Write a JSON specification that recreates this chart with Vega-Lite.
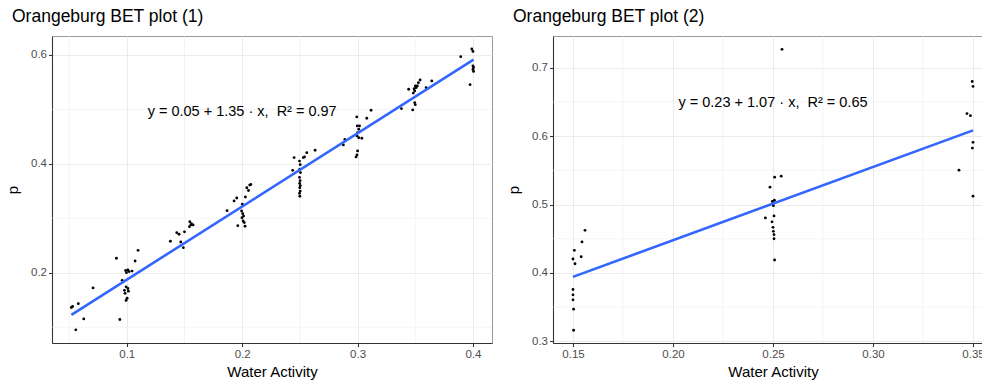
{
  "$schema": "https://vega.github.io/schema/vega-lite/v6.json",
  "padding": {"left": 5, "top": 7, "right": 0, "bottom": 2},
  "spacing": 13,
  "background": "white",
  "datasets": {
    "bet1": [
      {"x": 0.052, "p": 0.136}, {"x": 0.053, "p": 0.138}, {"x": 0.058, "p": 0.143}, {"x": 0.0627, "p": 0.115},
      {"x": 0.0558, "p": 0.095}, {"x": 0.0708, "p": 0.172},
      {"x": 0.091, "p": 0.2265}, {"x": 0.094, "p": 0.114}, {"x": 0.096, "p": 0.186},
      {"x": 0.099, "p": 0.204}, {"x": 0.101, "p": 0.205}, {"x": 0.102, "p": 0.202}, {"x": 0.0997, "p": 0.2}, {"x": 0.1046, "p": 0.203},
      {"x": 0.0994, "p": 0.174}, {"x": 0.101, "p": 0.171}, {"x": 0.098, "p": 0.1676}, {"x": 0.1014, "p": 0.166},
      {"x": 0.0985, "p": 0.162}, {"x": 0.1003, "p": 0.153}, {"x": 0.0994, "p": 0.149},
      {"x": 0.1072, "p": 0.2215}, {"x": 0.1098, "p": 0.241},
      {"x": 0.1378, "p": 0.2577}, {"x": 0.1433, "p": 0.2735}, {"x": 0.1453, "p": 0.2706}, {"x": 0.1468, "p": 0.2564},
      {"x": 0.149, "p": 0.246}, {"x": 0.15, "p": 0.275}, {"x": 0.1546, "p": 0.2937}, {"x": 0.1555, "p": 0.2877},
      {"x": 0.1575, "p": 0.2877}, {"x": 0.1543, "p": 0.2846}, {"x": 0.156, "p": 0.29},
      {"x": 0.1869, "p": 0.314}, {"x": 0.193, "p": 0.3318}, {"x": 0.1953, "p": 0.3373}, {"x": 0.1962, "p": 0.2864},
      {"x": 0.2025, "p": 0.2853}, {"x": 0.2002, "p": 0.3257}, {"x": 0.2028, "p": 0.339}, {"x": 0.204, "p": 0.356},
      {"x": 0.2055, "p": 0.351}, {"x": 0.2065, "p": 0.361}, {"x": 0.2075, "p": 0.362},
      {"x": 0.1995, "p": 0.3134}, {"x": 0.2005, "p": 0.3085}, {"x": 0.2012, "p": 0.304}, {"x": 0.1998, "p": 0.301},
      {"x": 0.2008, "p": 0.295}, {"x": 0.2018, "p": 0.292},
      {"x": 0.2438, "p": 0.388}, {"x": 0.245, "p": 0.4115}, {"x": 0.253, "p": 0.4115}, {"x": 0.254, "p": 0.4127},
      {"x": 0.256, "p": 0.4206}, {"x": 0.2632, "p": 0.425},
      {"x": 0.2497, "p": 0.405}, {"x": 0.2503, "p": 0.3985}, {"x": 0.2499, "p": 0.39}, {"x": 0.2505, "p": 0.384},
      {"x": 0.2497, "p": 0.375}, {"x": 0.2502, "p": 0.369}, {"x": 0.2498, "p": 0.364}, {"x": 0.2504, "p": 0.36},
      {"x": 0.2499, "p": 0.356}, {"x": 0.2503, "p": 0.35}, {"x": 0.2497, "p": 0.346}, {"x": 0.25, "p": 0.3405},
      {"x": 0.2877, "p": 0.4347}, {"x": 0.289, "p": 0.445}, {"x": 0.2993, "p": 0.4862}, {"x": 0.2997, "p": 0.4697},
      {"x": 0.3017, "p": 0.4697}, {"x": 0.301, "p": 0.4636}, {"x": 0.3, "p": 0.4573}, {"x": 0.2995, "p": 0.4513},
      {"x": 0.301, "p": 0.448}, {"x": 0.3037, "p": 0.447}, {"x": 0.3, "p": 0.4237}, {"x": 0.2995, "p": 0.4164},
      {"x": 0.2987, "p": 0.4127}, {"x": 0.308, "p": 0.4838}, {"x": 0.3117, "p": 0.4985},
      {"x": 0.338, "p": 0.5015}, {"x": 0.3478, "p": 0.499}, {"x": 0.3443, "p": 0.537}, {"x": 0.3483, "p": 0.53},
      {"x": 0.3495, "p": 0.534}, {"x": 0.349, "p": 0.538}, {"x": 0.3507, "p": 0.54}, {"x": 0.3501, "p": 0.543},
      {"x": 0.3518, "p": 0.543}, {"x": 0.3527, "p": 0.549}, {"x": 0.3542, "p": 0.554}, {"x": 0.3495, "p": 0.5125},
      {"x": 0.35, "p": 0.5088}, {"x": 0.3594, "p": 0.54}, {"x": 0.3643, "p": 0.5523},
      {"x": 0.3894, "p": 0.597}, {"x": 0.399, "p": 0.611}, {"x": 0.4, "p": 0.6065}, {"x": 0.4, "p": 0.58},
      {"x": 0.4005, "p": 0.577}, {"x": 0.4, "p": 0.5735}, {"x": 0.4005, "p": 0.5698}, {"x": 0.3975, "p": 0.5455}
    ],
    "bet2": [
      {"x": 0.156, "p": 0.4623}, {"x": 0.1545, "p": 0.4453}, {"x": 0.1507, "p": 0.433}, {"x": 0.15, "p": 0.4203},
      {"x": 0.151, "p": 0.4134}, {"x": 0.1541, "p": 0.4237}, {"x": 0.15, "p": 0.3757}, {"x": 0.15, "p": 0.3679},
      {"x": 0.15, "p": 0.3606}, {"x": 0.1503, "p": 0.347}, {"x": 0.1503, "p": 0.3161},
      {"x": 0.2545, "p": 0.727}, {"x": 0.2508, "p": 0.54}, {"x": 0.2541, "p": 0.5415}, {"x": 0.2485, "p": 0.5254},
      {"x": 0.2497, "p": 0.5045}, {"x": 0.2507, "p": 0.5063}, {"x": 0.2502, "p": 0.4983}, {"x": 0.2462, "p": 0.4805},
      {"x": 0.2505, "p": 0.4833}, {"x": 0.2495, "p": 0.4747}, {"x": 0.25, "p": 0.4667}, {"x": 0.2502, "p": 0.4608},
      {"x": 0.2505, "p": 0.456}, {"x": 0.2505, "p": 0.45}, {"x": 0.2508, "p": 0.4189},
      {"x": 0.3496, "p": 0.68}, {"x": 0.35, "p": 0.6727}, {"x": 0.347, "p": 0.633}, {"x": 0.3487, "p": 0.63},
      {"x": 0.35, "p": 0.591}, {"x": 0.3497, "p": 0.5826}, {"x": 0.343, "p": 0.5503}, {"x": 0.35, "p": 0.5122}
    ],
    "fit1": [{"x": 0.052, "p": 0.1225}, {"x": 0.4005, "p": 0.5914}],
    "fit2": [{"x": 0.15, "p": 0.3942}, {"x": 0.35, "p": 0.6085}],
    "eq1": [{"x": 0.2, "p": 0.496, "label": "y = 0.05 + 1.35 · x,\u00a0\u00a0R² = 0.97"}],
    "eq2": [{"x": 0.25, "p": 0.6486, "label": "y = 0.23 + 1.07 · x,\u00a0\u00a0R² = 0.65"}],
    "minor1x": [{"x": 0.05}, {"x": 0.15}, {"x": 0.25}, {"x": 0.35}],
    "minor1y": [{"p": 0.1}, {"p": 0.3}, {"p": 0.5}],
    "minor2x": [{"x": 0.175}, {"x": 0.225}, {"x": 0.275}, {"x": 0.325}],
    "minor2y": [{"p": 0.35}, {"p": 0.45}, {"p": 0.55}, {"p": 0.65}]
  },
  "hconcat": [
    {
      "width": 440,
      "height": 307,
      "title": {"text": "Orangeburg BET plot (1)", "anchor": "start", "frame": "group", "dx": -40},
      "layer": [
        {
          "data": {"name": "minor1x"},
          "mark": {"type": "rule", "color": "#EBEBEB", "strokeWidth": 0.55},
          "encoding": {
            "x": {"field": "x", "type": "quantitative", "title": "Water Activity", "scale": {"domain": [0.0352, 0.4165], "nice": false, "zero": false}, "axis": {"values": [0.1, 0.2, 0.3, 0.4], "format": ".1f"}}
          }
        },
        {
          "data": {"name": "minor1y"},
          "mark": {"type": "rule", "color": "#EBEBEB", "strokeWidth": 0.55},
          "encoding": {
            "y": {"field": "p", "type": "quantitative", "title": "p", "scale": {"domain": [0.0708, 0.6349], "nice": false, "zero": false}, "axis": {"values": [0.2, 0.4, 0.6], "format": ".1f"}}
          }
        },
        {
          "data": {"name": "bet1"},
          "mark": {"type": "circle", "size": 8, "color": "black", "opacity": 1},
          "encoding": {
            "x": {"field": "x", "type": "quantitative", "title": "Water Activity", "scale": {"domain": [0.0352, 0.4165], "nice": false, "zero": false}, "axis": {"values": [0.1, 0.2, 0.3, 0.4], "format": ".1f"}},
            "y": {"field": "p", "type": "quantitative", "title": "p", "scale": {"domain": [0.0708, 0.6349], "nice": false, "zero": false}, "axis": {"values": [0.2, 0.4, 0.6], "format": ".1f"}}
          }
        },
        {
          "data": {"name": "fit1"},
          "mark": {"type": "line", "color": "#3366FF", "strokeWidth": 2.6},
          "encoding": {
            "x": {"field": "x", "type": "quantitative", "title": "Water Activity", "scale": {"domain": [0.0352, 0.4165], "nice": false, "zero": false}, "axis": {"values": [0.1, 0.2, 0.3, 0.4], "format": ".1f"}},
            "y": {"field": "p", "type": "quantitative", "title": "p", "scale": {"domain": [0.0708, 0.6349], "nice": false, "zero": false}, "axis": {"values": [0.2, 0.4, 0.6], "format": ".1f"}}
          }
        },
        {
          "data": {"name": "eq1"},
          "mark": {"type": "text", "fontSize": 14.5, "color": "black", "align": "center", "baseline": "middle"},
          "encoding": {
            "x": {"field": "x", "type": "quantitative", "title": "Water Activity", "scale": {"domain": [0.0352, 0.4165], "nice": false, "zero": false}, "axis": {"values": [0.1, 0.2, 0.3, 0.4], "format": ".1f"}},
            "y": {"field": "p", "type": "quantitative", "title": "p", "scale": {"domain": [0.0708, 0.6349], "nice": false, "zero": false}, "axis": {"values": [0.2, 0.4, 0.6], "format": ".1f"}},
            "text": {"field": "label"}
          }
        }
      ]
    },
    {
      "width": 440,
      "height": 307,
      "title": {"text": "Orangeburg BET plot (2)", "anchor": "start", "frame": "group", "dx": -40},
      "layer": [
        {
          "data": {"name": "minor2x"},
          "mark": {"type": "rule", "color": "#EBEBEB", "strokeWidth": 0.55},
          "encoding": {
            "x": {"field": "x", "type": "quantitative", "title": "Water Activity", "scale": {"domain": [0.14, 0.36], "nice": false, "zero": false}, "axis": {"values": [0.15, 0.2, 0.25, 0.3, 0.35], "format": ".2f"}}
          }
        },
        {
          "data": {"name": "minor2y"},
          "mark": {"type": "rule", "color": "#EBEBEB", "strokeWidth": 0.55},
          "encoding": {
            "y": {"field": "p", "type": "quantitative", "title": "p", "scale": {"domain": [0.2975, 0.7465], "nice": false, "zero": false}, "axis": {"values": [0.3, 0.4, 0.5, 0.6, 0.7], "format": ".1f"}}
          }
        },
        {
          "data": {"name": "bet2"},
          "mark": {"type": "circle", "size": 8, "color": "black", "opacity": 1},
          "encoding": {
            "x": {"field": "x", "type": "quantitative", "title": "Water Activity", "scale": {"domain": [0.14, 0.36], "nice": false, "zero": false}, "axis": {"values": [0.15, 0.2, 0.25, 0.3, 0.35], "format": ".2f"}},
            "y": {"field": "p", "type": "quantitative", "title": "p", "scale": {"domain": [0.2975, 0.7465], "nice": false, "zero": false}, "axis": {"values": [0.3, 0.4, 0.5, 0.6, 0.7], "format": ".1f"}}
          }
        },
        {
          "data": {"name": "fit2"},
          "mark": {"type": "line", "color": "#3366FF", "strokeWidth": 2.6},
          "encoding": {
            "x": {"field": "x", "type": "quantitative", "title": "Water Activity", "scale": {"domain": [0.14, 0.36], "nice": false, "zero": false}, "axis": {"values": [0.15, 0.2, 0.25, 0.3, 0.35], "format": ".2f"}},
            "y": {"field": "p", "type": "quantitative", "title": "p", "scale": {"domain": [0.2975, 0.7465], "nice": false, "zero": false}, "axis": {"values": [0.3, 0.4, 0.5, 0.6, 0.7], "format": ".1f"}}
          }
        },
        {
          "data": {"name": "eq2"},
          "mark": {"type": "text", "fontSize": 14.5, "color": "black", "align": "center", "baseline": "middle"},
          "encoding": {
            "x": {"field": "x", "type": "quantitative", "title": "Water Activity", "scale": {"domain": [0.14, 0.36], "nice": false, "zero": false}, "axis": {"values": [0.15, 0.2, 0.25, 0.3, 0.35], "format": ".2f"}},
            "y": {"field": "p", "type": "quantitative", "title": "p", "scale": {"domain": [0.2975, 0.7465], "nice": false, "zero": false}, "axis": {"values": [0.3, 0.4, 0.5, 0.6, 0.7], "format": ".1f"}},
            "text": {"field": "label"}
          }
        }
      ]
    }
  ],
  "config": {
    "font": "Liberation Sans",
    "view": {"stroke": "#9A9A9A", "strokeWidth": 1},
    "title": {"fontSize": 17.5, "fontWeight": "normal", "color": "black", "font": "Liberation Sans", "offset": 10},
    "axis": {
      "domainColor": "#333333",
      "domainWidth": 1.07,
      "tickColor": "#333333",
      "tickSize": 3.5,
      "tickWidth": 1.07,
      "labelColor": "#4D4D4D",
      "labelFontSize": 11.5,
      "labelPadding": 2,
      "titleFontSize": 15,
      "titleFontWeight": "normal",
      "titleColor": "black",
      "gridColor": "#EBEBEB",
      "gridWidth": 1.07
    },
    "axisX": {"titlePadding": 4},
    "axisY": {"titlePadding": 10}
  }
}
